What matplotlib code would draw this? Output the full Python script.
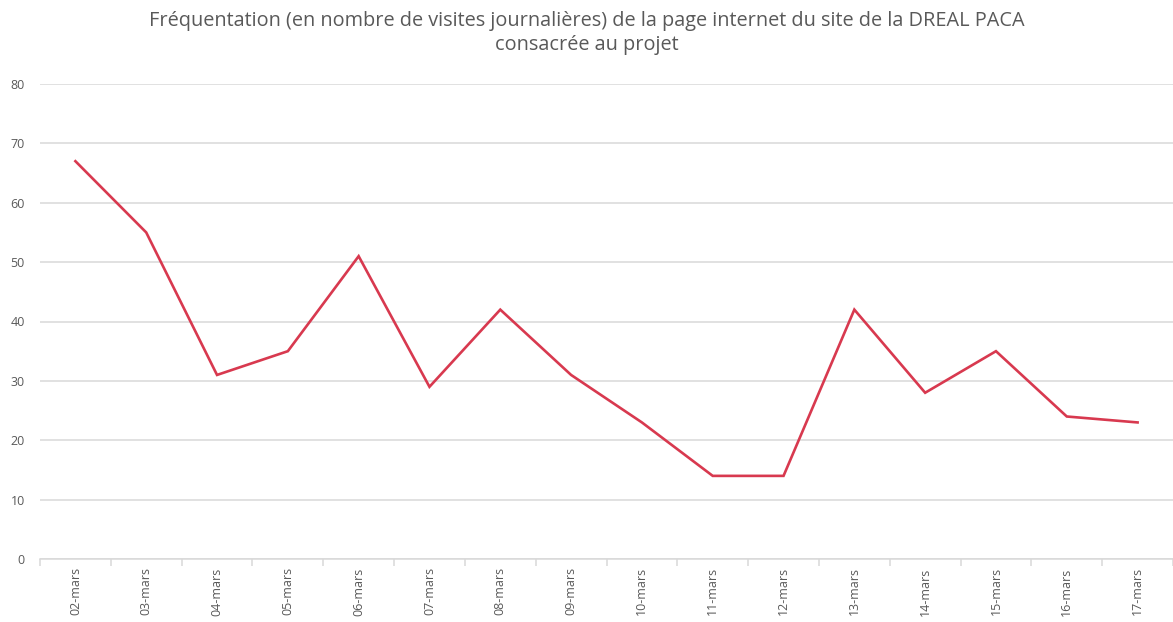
import matplotlib
matplotlib.use("Agg")
import matplotlib.pyplot as plt
import numpy as np

categories = ["02-mars", "03-mars", "04-mars", "05-mars", "06-mars", "07-mars", "08-mars", "09-mars",
              "10-mars", "11-mars", "12-mars", "13-mars", "14-mars", "15-mars", "16-mars", "17-mars"]
visits = [67, 55, 31, 35, 51, 29, 42, 31, 23, 14, 14, 42, 28, 35, 24, 23]
yticks = [0, 10, 20, 30, 40, 50, 60, 70, 80]
title = "Fréquentation (en nombre de visites journalières) de la page internet du site de la DREAL PACA\nconsacrée au projet"

plt.rcParams['font.family'] = ['Open Sans', 'DejaVu Sans']
W, H = 1173, 622
fig = plt.figure(figsize=(W / 100, H / 100), dpi=100)
ax = fig.add_axes([40 / W, 1 - 559 / H, (1173 - 40) / W, (559 - 84) / H])

x = np.arange(len(categories))
ax.plot(x, visits, color="#d8394f", linewidth=1.9, solid_joinstyle="miter")

ax.set_xlim(-0.5, len(categories) - 0.5)
ax.set_ylim(0, 80)
ax.set_yticks(yticks)
ax.set_yticklabels([str(v) for v in yticks])
ax.set_xticks(x)
ax.set_xticklabels(categories, rotation=90)
ax.set_xticks(np.arange(len(categories) + 1) - 0.5, minor=True)

ax.yaxis.grid(True, color="#d9d9d9", linewidth=1.1)
ax.set_axisbelow(True)
for s in ["top", "right", "left"]:
    ax.spines[s].set_visible(False)
ax.spines["bottom"].set_color("#d9d9d9")
ax.spines["bottom"].set_linewidth(1.1)

ax.tick_params(axis="y", length=0, pad=11, labelsize=9, labelcolor="#595959")
ax.tick_params(axis="x", which="major", length=0, pad=6, labelsize=9, labelcolor="#595959")
ax.tick_params(axis="x", which="minor", length=5, width=1.1, color="#d9d9d9")

fig.text(587 / W, 1 - 33 / H, title, ha="center", va="center", fontsize=14.3,
         color="#595959", linespacing=1.3)

fig.savefig("out.png", dpi=100)
